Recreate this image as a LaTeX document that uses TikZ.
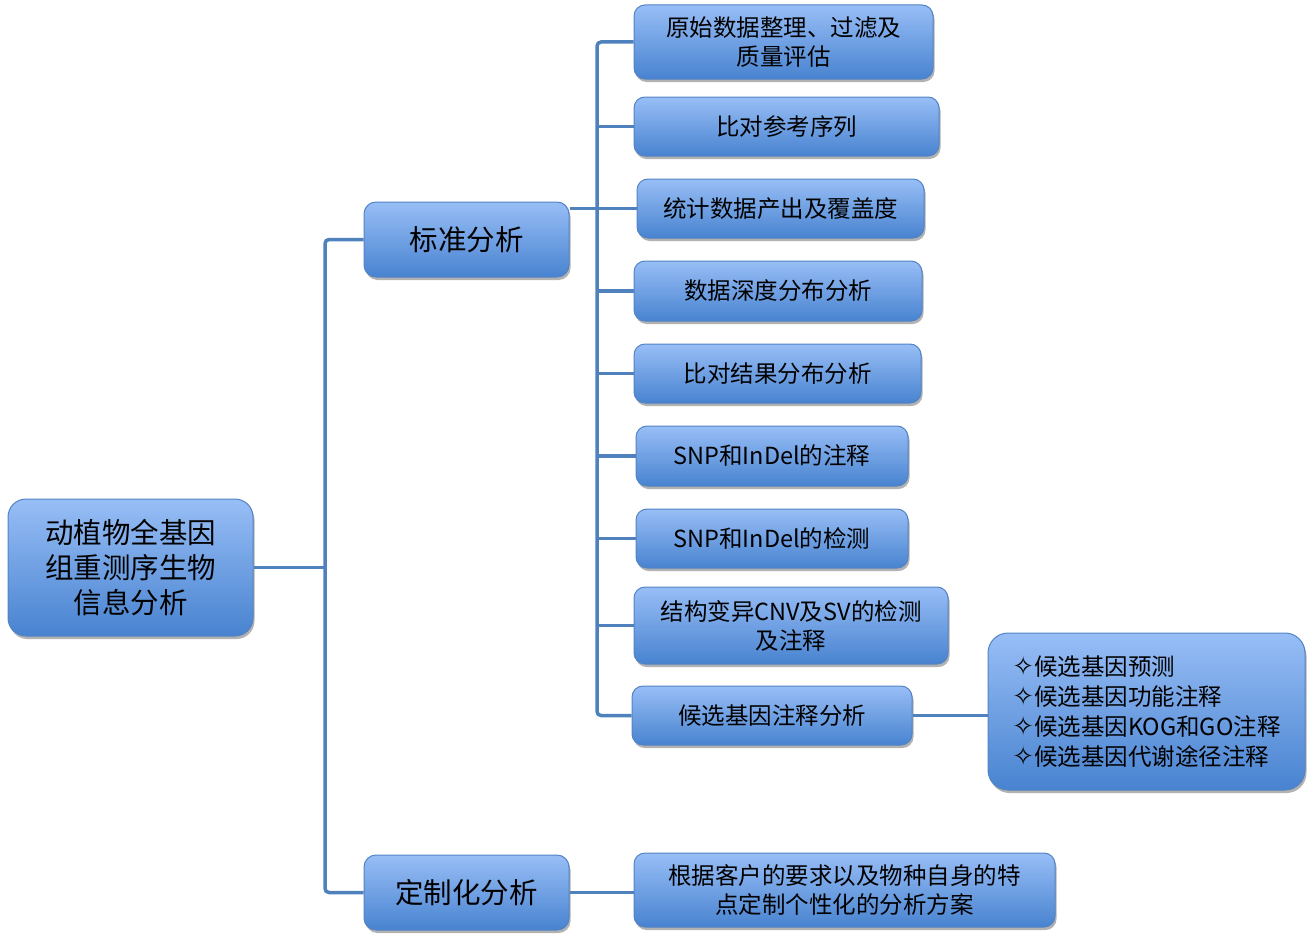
\documentclass[tikz,border=0pt]{standalone}
\usepackage{fontspec}
\setmainfont{Noto Sans CJK SC}
\newfontfamily\symfont{DejaVu Sans}
\usetikzlibrary{shadows}
\definecolor{boxtop}{HTML}{98BEF6}
\definecolor{boxbot}{HTML}{4883D0}
\definecolor{boxline}{HTML}{5283C4}
\definecolor{linkblue}{HTML}{4F81BD}
\tikzset{
  box/.style={draw=boxline, line width=1pt, rounded corners=11pt,
    top color=boxtop, bottom color=boxbot, text=black,
    drop shadow={shadow xshift=1.5pt, shadow yshift=-3pt, opacity=0.3, fill=black},
    align=center, inner sep=0pt, font=\fontsize{23.5}{29}\selectfont},
  bigbox/.style={box, rounded corners=18pt, font=\fontsize{28.5}{35}\selectfont},
  link/.style={draw=linkblue, line width=3.5pt, rounded corners=4pt},
}
\begin{document}
\begin{tikzpicture}[x=1pt, y=-1pt]
        \useasboundingbox (0,0) rectangle (1314,942);
        % 主干位置
        \coordinate (ta) at (325,0);
        \coordinate (tb) at (597,0);
        % 第一层
        \node[bigbox, minimum width=245, minimum height=137] (root) at (130.5,567.5) {动植物全基因\\组重测序生物\\信息分析};
        \node[bigbox, rounded corners=12pt, minimum width=205, minimum height=75] (std) at (466.5,239.5) {标准分析};
        \node[bigbox, rounded corners=12pt, minimum width=205, minimum height=75] (cust) at (466.5,892.5) {定制化分析};
        % 标准分析的各项
        \node[box, minimum width=299, minimum height=74] (b1) at (783.5,42) {原始数据整理、过滤及\\质量评估};
        \node[box, minimum width=305, minimum height=59] (b2) at (786.5,126.5) {比对参考序列};
        \node[box, minimum width=287, minimum height=59] (b3) at (780.5,208.5) {统计数据产出及覆盖度};
        \node[box, minimum width=288, minimum height=60] (b4) at (778,291) {数据深度分布分析};
        \node[box, minimum width=287, minimum height=59] (b5) at (777.5,373.5) {比对结果分布分析};
        \node[box, minimum width=272, minimum height=60] (b6) at (772,456) {SNP和InDel的注释};
        \node[box, minimum width=272, minimum height=59] (b7) at (772,538.5) {SNP和InDel的检测};
        \node[box, minimum width=314, minimum height=77] (b8) at (791,625.5) {结构变异CNV及SV的检测\\及注释};
        \node[box, minimum width=280, minimum height=59] (b9) at (772,715.5) {候选基因注释分析};
        \node[box, rounded corners=20pt, align=left, font=\fontsize{23.5}{30}\selectfont, minimum width=317, minimum height=157] (genes) at (1146.5,711.5)
          {{\symfont\fontsize{26}{30}\selectfont ✧}候选基因预测\\{\symfont\fontsize{26}{30}\selectfont ✧}候选基因功能注释\\{\symfont\fontsize{26}{30}\selectfont ✧}候选基因KOG和GO注释\\{\symfont\fontsize{26}{30}\selectfont ✧}候选基因代谢途径注释};
        % 定制化分析
        \node[box, minimum width=421, minimum height=74] (plan) at (844.5,890) {根据客户的要求以及物种自身的特\\点定制个性化的分析方案};
        % 连线
        \draw[link] (root.east) -- (root.east -| ta);
        \draw[link] (std.west) -- (std.west -| ta) -- (cust.west -| ta) -- (cust.west);
        \draw[link] (b3.west -| std.east) -- (b3.west -| tb);
        \draw[link] (b1.west) -- (b1.west -| tb) -- (b9.west -| tb) -- (b9.west);
        \foreach \n in {b2,b3,b4,b5,b6,b7,b8}
          \draw[link] (\n.west -| tb) -- (\n.west);
        \draw[link] (b9.east) -- (b9.east -| genes.west);
        \draw[link] (cust.east) -- (cust.east -| plan.west);
\end{tikzpicture}
\end{document}
